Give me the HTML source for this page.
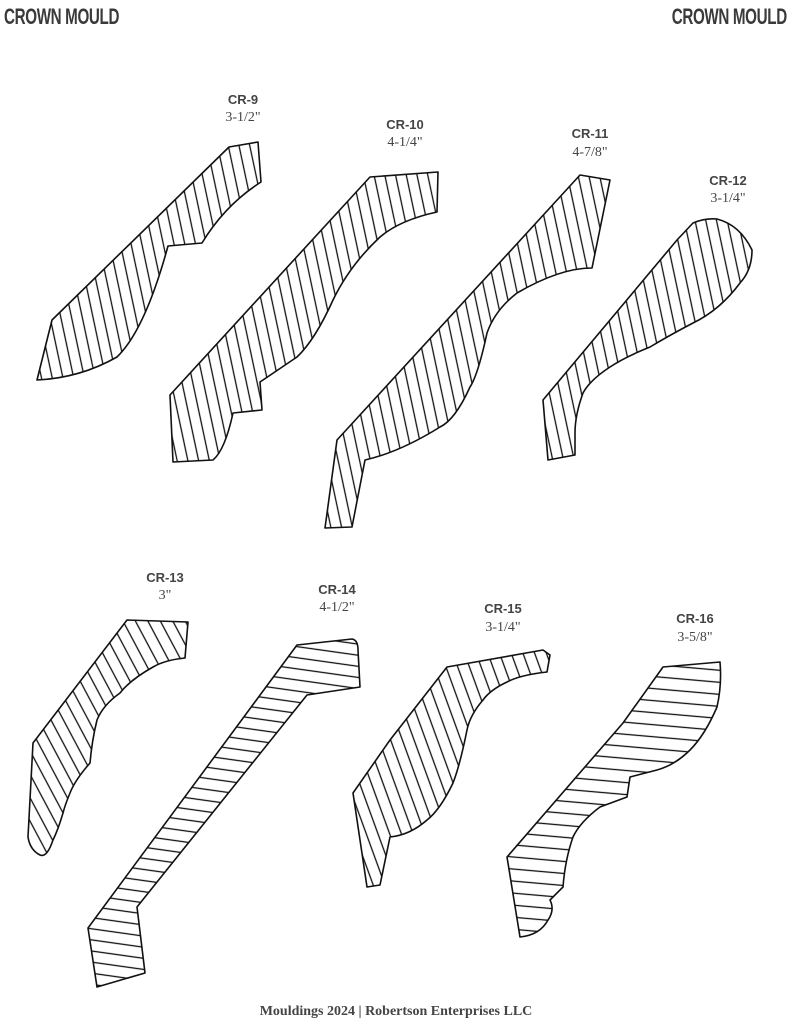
<!DOCTYPE html>
<html><head><meta charset="utf-8"><style>
html,body{margin:0;padding:0;background:#fff;}
body{width:791px;height:1024px;position:relative;overflow:hidden;}
.hd{position:absolute;top:4px;font-family:"Liberation Sans",sans-serif;font-weight:bold;font-size:22px;color:#3a3a3a;transform:scaleX(0.69);letter-spacing:-0.5px;}
</style></head><body>
<div class="hd" style="left:4px;transform-origin:left top;">CROWN MOULD</div>
<div class="hd" style="right:4px;transform-origin:right top;">CROWN MOULD</div>
<svg width="791" height="1024" style="position:absolute;left:0;top:0" xmlns="http://www.w3.org/2000/svg">
<defs>
<pattern id="pv" width="10.5" height="10" patternUnits="userSpaceOnUse" patternTransform="rotate(-12)"><line x1="4" y1="0" x2="4" y2="10" stroke="#111" stroke-width="1.3"/></pattern>
<pattern id="pv2" width="11" height="10" patternUnits="userSpaceOnUse" patternTransform="rotate(-20)"><line x1="4" y1="0" x2="4" y2="10" stroke="#111" stroke-width="1.3"/></pattern>
<pattern id="pd" width="11" height="10" patternUnits="userSpaceOnUse" patternTransform="rotate(-28)"><line x1="4" y1="0" x2="4" y2="10" stroke="#111" stroke-width="1.3"/></pattern>
<pattern id="ph" width="11" height="11" patternUnits="userSpaceOnUse" patternTransform="rotate(8)"><line x1="0" y1="5" x2="11" y2="5" stroke="#111" stroke-width="1.3"/></pattern>
<pattern id="ph2" width="12" height="12" patternUnits="userSpaceOnUse" patternTransform="rotate(5)"><line x1="0" y1="5" x2="12" y2="5" stroke="#111" stroke-width="1.3"/></pattern>
</defs>
<g stroke="#111" stroke-width="1.6" stroke-linejoin="round">
<path fill="url(#pv)" d="M229,147 L258,142 L261,182 Q225,205 202,243 L168,246 Q145,330 117,357 Q80,378 37,380 L52,320 Z"/>
<path fill="url(#pv)" d="M370,177 L438,172 L437,212 Q400,220 380,237 Q350,265 333,300 Q315,340 297,357 L260,382 L262,410 L233,413 Q225,450 213,460 L173,462 L170,395 Z"/>
<path fill="url(#pv)" d="M580,175 L610,180 L592,268 Q560,268 517,293 Q495,310 487,333 Q478,375 470,387 Q455,420 440,427 Q400,452 365,460 L352,527 L325,528 L337,440 Z"/>
<path fill="url(#pv)" d="M693,223 Q705,218 717,219 Q740,225 752,250 Q752,270 740,283 Q720,310 693,323 Q670,335 650,347 Q625,357 610,367 Q590,380 583,393 Q575,415 575,433 L575,455 L548,460 L543,400 L677,240 Z"/>
<path fill="url(#pd)" d="M127,620 L188,622 L185,658 Q165,660 153,667 Q130,680 120,693 Q103,705 97,720 Q92,740 90,763 Q75,780 70,793 Q65,805 63,813 Q58,830 53,840 Q47,858 40,855 Q30,850 28,837 L33,743 Z"/>
<path fill="url(#ph)" d="M297,645 L352,639 Q358,640 358,650 L360,687 L307,695 L137,907 L145,973 L97,987 L88,928 Z"/>
<path fill="url(#pv2)" d="M447,667 L543,650 L550,655 L547,672 Q520,675 507,682 Q490,690 483,700 Q470,715 467,730 Q460,765 453,783 Q440,810 427,820 Q410,835 390,837 L380,885 L367,887 L353,793 L390,740 Z"/>
<path fill="url(#ph2)" d="M663,667 L720,662 Q722,685 717,707 Q705,735 690,750 Q675,765 657,770 L630,777 L627,797 L600,807 Q580,822 573,837 Q565,860 563,887 L550,900 Q555,910 548,920 Q540,935 520,937 L507,857 L623,723 Z"/>
</g>
<g font-family="Liberation Sans,sans-serif" font-weight="bold" font-size="13" fill="#444" text-anchor="middle">
<text x="243" y="104">CR-9</text><text x="405" y="129">CR-10</text><text x="590" y="138">CR-11</text><text x="728" y="185">CR-12</text>
<text x="165" y="582">CR-13</text><text x="337" y="594">CR-14</text><text x="503" y="613">CR-15</text><text x="695" y="623">CR-16</text>
</g>
<g font-family="Liberation Serif,serif" font-size="14" fill="#444" text-anchor="middle">
<text x="243" y="121">3-1/2"</text><text x="405" y="146">4-1/4"</text><text x="590" y="156">4-7/8"</text><text x="728" y="202">3-1/4"</text>
<text x="165" y="599">3"</text><text x="337" y="611">4-1/2"</text><text x="503" y="631">3-1/4"</text><text x="695" y="641">3-5/8"</text>
</g>
<text x="396" y="1015" font-family="Liberation Serif,serif" font-weight="bold" font-size="14" fill="#444" text-anchor="middle">Mouldings 2024 | Robertson Enterprises LLC</text>
</svg>
</body></html>
